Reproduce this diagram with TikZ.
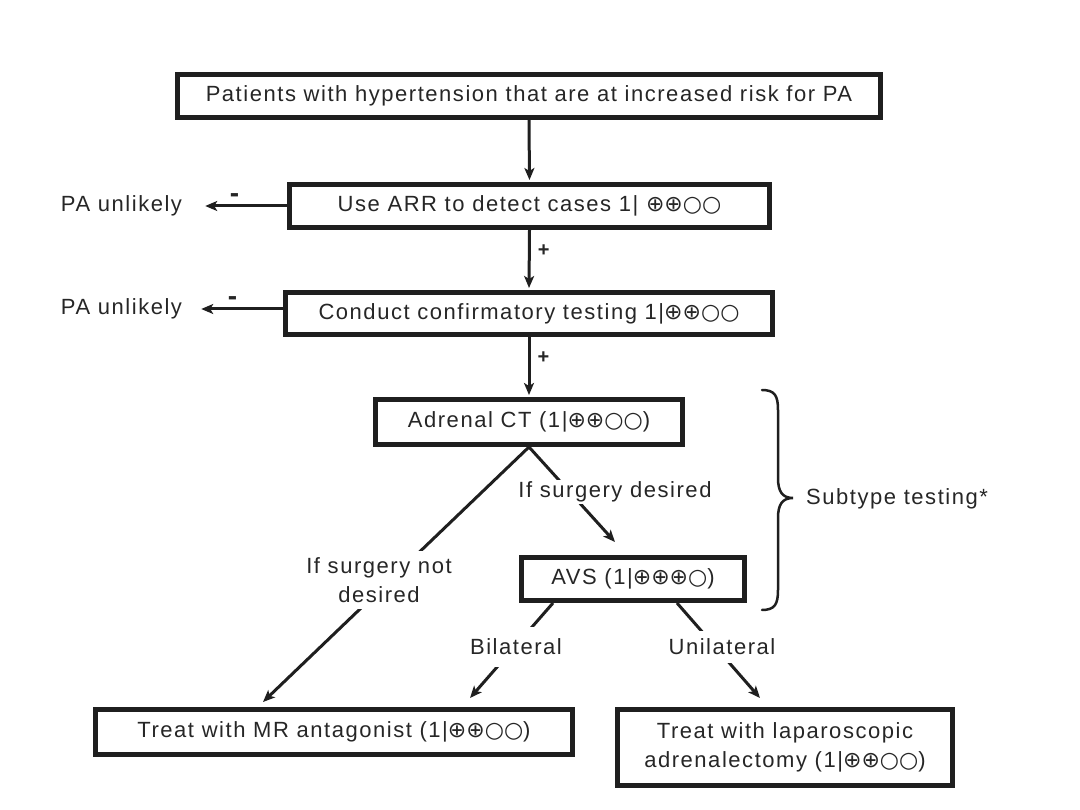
\documentclass[tikz,border=0pt]{standalone}
\usepackage{fontspec}
\setmainfont{Liberation Sans}[LetterSpace=7]
\newfontfamily\symf{DejaVu Sans}
\usetikzlibrary{arrows.meta}
\newcommand\qq[1]{{\symf #1}}
\begin{document}
\begin{tikzpicture}[x=1pt,y=-1pt,
  every node/.style={font=\fontsize{22}{29}\selectfont, text=black!85},
  box/.style={draw=black!88, line width=5pt, inner sep=0pt, align=center},
  arr/.style={line width=3pt, draw=black!88, -{Stealth[length=12pt,width=10pt,inset=3pt]}},
  ln/.style={line width=3pt, draw=black!88},
  lab/.style={fill=white, align=center, inner sep=3pt},
  sign/.style={font=\fontsize{20}{20}\selectfont\bfseries, inner sep=0pt},
  dashsign/.style={font=\fontsize{28}{28}\selectfont\bfseries, inner sep=0pt}]
\useasboundingbox (0,0) rectangle (1080,810);

% boxes
\node[box, minimum width=703pt, minimum height=43pt] (b1) at (529,96)
  {Patients with hypertension that are at increased risk for PA};
\node[box, minimum width=480pt, minimum height=43pt] (b2) at (529.5,206)
  {Use ARR to detect cases 1| \qq{⊕⊕○○}};
\node[box, minimum width=487pt, minimum height=42pt] (b3) at (529,313.5)
  {Conduct confirmatory testing 1|\qq{⊕⊕○○}};
\node[box, minimum width=307pt, minimum height=45pt] (b4) at (529,422)
  {Adrenal CT (1|\qq{⊕⊕○○})};
\node[box, minimum width=223pt, minimum height=43pt] (avs) at (633,579)
  {AVS (1|\qq{⊕⊕⊕○})};
\node[box, minimum width=477pt, minimum height=45pt] (mr) at (334,732)
  {Treat with MR antagonist (1|\qq{⊕⊕○○})};
\node[box, minimum width=335pt, minimum height=76pt] (lap) at (785,747.5)
  {Treat with laparoscopic\\adrenalectomy (1|\qq{⊕⊕○○})};

% side outcomes
\node[inner sep=0pt] (pa1) at (121.5,206) {PA unlikely};
\node[inner sep=0pt] (pa2) at (121.5,309) {PA unlikely};

% arrow tips
\coordinate (t1) at (263,702);
\coordinate (t2) at (615,542);
\coordinate (t3) at (470,698);
\coordinate (t4) at (760,698);

% vertical main flow
\draw[arr, shorten >=2pt] (b1.south) -- (b2.north);
\draw[arr, shorten >=2pt] (b2.south) -- node[sign, pos=0.35, right=7pt] {+} (b3.north);
\draw[arr, shorten >=2pt] (b3.south) -- node[sign, pos=0.35, right=7pt] {+} (b4.north);

% negative outcomes
\draw[arr, shorten >=23pt] (pa1.east -| b2.west) -- node[dashsign, midway, yshift=8pt] {-} (pa1.east);
\draw[arr, shorten >=19pt] (pa2.east -| b3.west) -- node[dashsign, midway, yshift=8pt] {-} (pa2.east);

% branches
\draw[arr] (b4.south) -- (t1);
\draw[arr] (b4.south) -- (t2);
\draw[arr] ([xshift=-80pt]avs.south) -- (t3);
\draw[arr] ([xshift=44pt]avs.south) -- (t4);

% labels over branches
\node[lab, inner xsep=4pt, inner ysep=6pt] (l1) at (379,580) {If surgery not\\desired};
\node[lab, inner sep=2pt] (l2) at (615,492) {If surgery desired};
\node[lab, inner xsep=3pt, inner ysep=12pt] (l3) at (516,647) {Bilateral};
\node[lab, inner xsep=3pt, inner ysep=8pt] (l4) at (722,647) {Unilateral};

% brace
\draw[line width=2.5pt, draw=black!88, line cap=round]
  (762,390) .. controls (775,390) and (778,396) .. (778,410) -- (778,478)
  .. controls (778,491) and (782,498) .. (793,498)
  .. controls (782,498) and (778,505) .. (778,518) -- (778,590)
  .. controls (778,604) and (775,610) .. (762,610);
\node[anchor=west, inner sep=0pt] (sub) at (806,499) {Subtype testing*};
\end{tikzpicture}
\end{document}
